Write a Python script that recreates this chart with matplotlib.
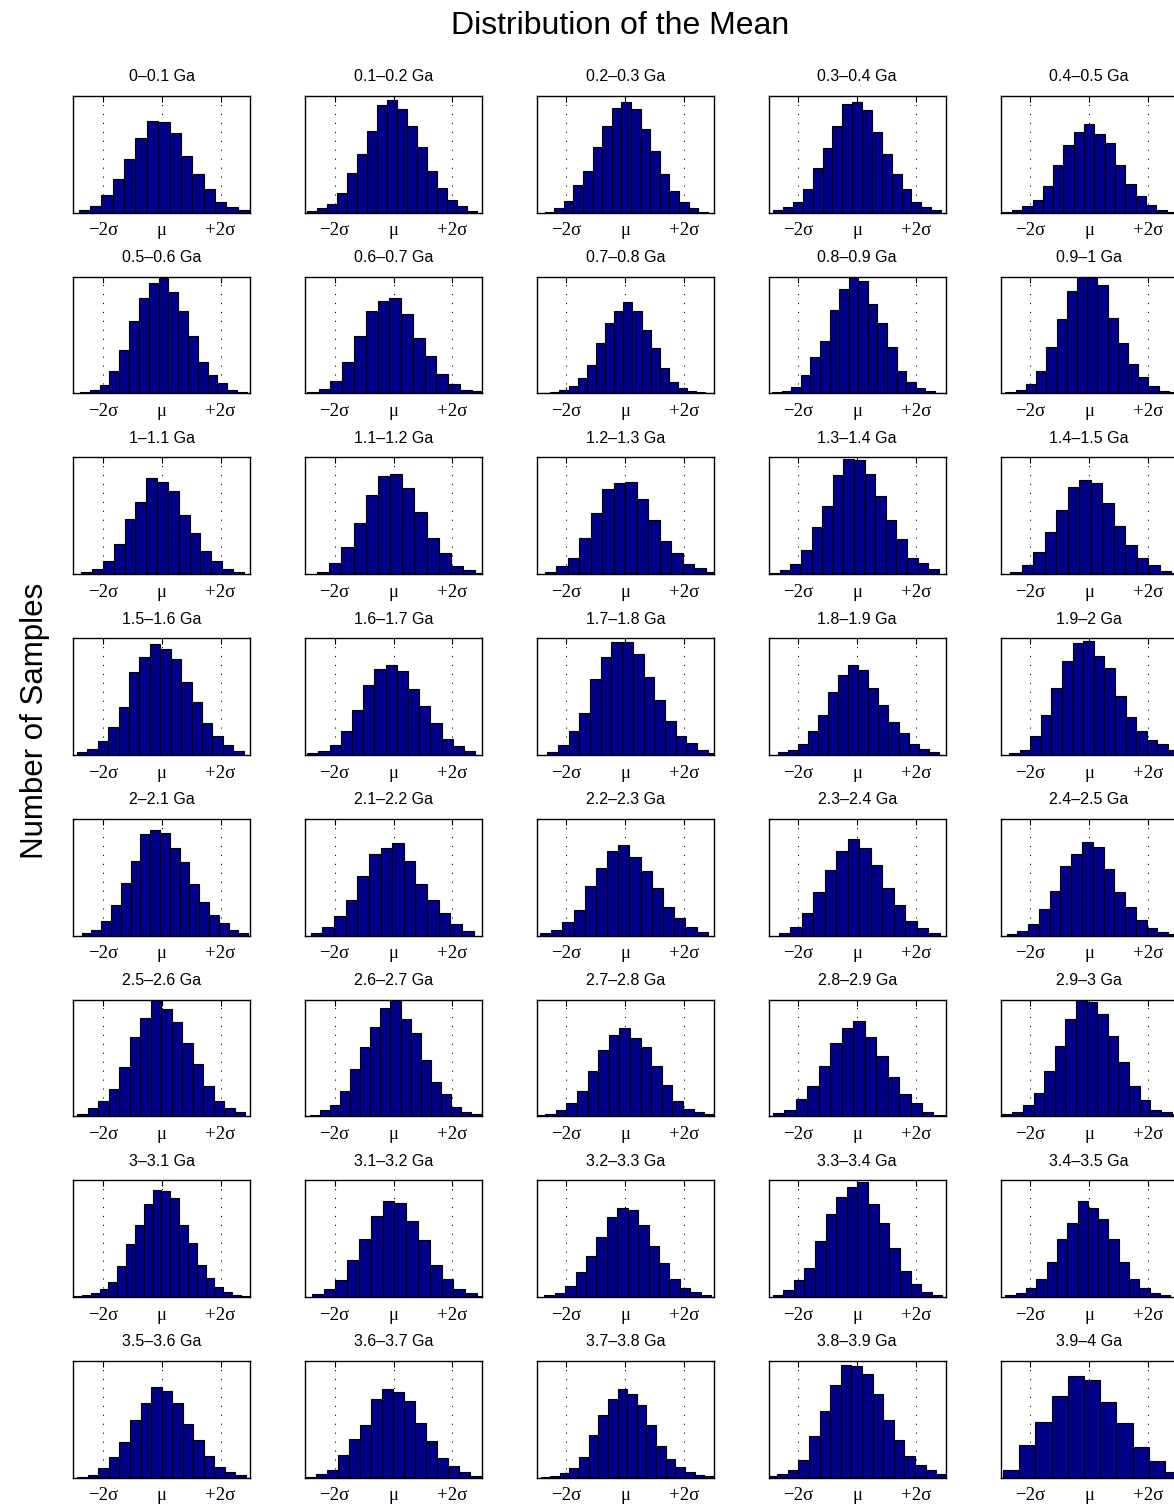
import numpy as np
import matplotlib.pyplot as plt

plt.rcParams['font.family'] = ['Liberation Sans', 'DejaVu Sans']

# panel titles (age bins)
labels = [
    "0–0.1 Ga", "0.1–0.2 Ga", "0.2–0.3 Ga", "0.3–0.4 Ga", "0.4–0.5 Ga",
    "0.5–0.6 Ga", "0.6–0.7 Ga", "0.7–0.8 Ga", "0.8–0.9 Ga", "0.9–1 Ga",
    "1–1.1 Ga", "1.1–1.2 Ga", "1.2–1.3 Ga", "1.3–1.4 Ga", "1.4–1.5 Ga",
    "1.5–1.6 Ga", "1.6–1.7 Ga", "1.7–1.8 Ga", "1.8–1.9 Ga", "1.9–2 Ga",
    "2–2.1 Ga", "2.1–2.2 Ga", "2.2–2.3 Ga", "2.3–2.4 Ga", "2.4–2.5 Ga",
    "2.5–2.6 Ga", "2.6–2.7 Ga", "2.7–2.8 Ga", "2.8–2.9 Ga", "2.9–3 Ga",
    "3–3.1 Ga", "3.1–3.2 Ga", "3.2–3.3 Ga", "3.3–3.4 Ga", "3.4–3.5 Ga",
    "3.5–3.6 Ga", "3.6–3.7 Ga", "3.7–3.8 Ga", "3.8–3.9 Ga", "3.9–4 Ga",
]

# left edge of the first bin and bin width, in units of sigma
bin_start = [
    -2.82, -2.94, -2.74, -2.85, -2.97,
    -2.77, -2.94, -2.86, -2.89, -2.84,
    -2.73, -2.60, -2.73, -2.99, -2.67,
    -2.88, -2.93, -2.65, -2.70, -2.72,
    -2.72, -2.81, -2.90, -2.66, -2.80,
    -2.87, -2.84, -3.08, -2.87, -2.96,
    -3.01, -2.77, -2.75, -2.87, -2.84,
    -2.86, -3.00, -2.88, -3.08, -2.92,
]
bin_width = [
    0.386, 0.340, 0.326, 0.335, 0.350,
    0.333, 0.400, 0.310, 0.325, 0.347,
    0.368, 0.414, 0.390, 0.360, 0.390,
    0.354, 0.380, 0.363, 0.342, 0.360,
    0.333, 0.395, 0.380, 0.390, 0.366,
    0.357, 0.342, 0.360, 0.390, 0.360,
    0.300, 0.400, 0.354, 0.360, 0.350,
    0.357, 0.373, 0.327, 0.360, 0.550,
]

# bar heights, percent of the panel height
counts = [
    [2.3, 6, 15, 29, 46, 64, 79, 78, 68, 49, 33, 20, 9, 5, 2],
    [1.4, 4, 7.5, 17, 34, 50, 70, 92.5, 96.5, 89, 74, 56, 36, 21, 11, 6, 1.4],
    [1, 4, 10, 24, 36, 56, 74, 90, 95, 89, 72, 53, 33, 19, 9, 4, 1],
    [2.3, 5, 9.5, 20.5, 38, 55.5, 74, 93.5, 95, 88, 69.5, 50, 33, 20, 9.5, 4.5, 2.3],
    [0.5, 2.3, 5.7, 11, 23, 41, 58, 69.5, 76, 67.5, 60, 41, 25, 14.5, 6.5, 2.5, 1],
    [1, 3, 7.5, 19, 37, 62, 82, 95, 98.5, 87, 71, 49, 26.5, 16, 8.6, 3, 1.4],
    [1, 4, 11, 27, 49, 70.5, 79, 82, 68, 47.5, 32, 17, 8, 3, 2],
    [0.3, 1, 2.5, 6, 13, 24.5, 43.5, 60, 70.5, 78, 71, 54.5, 39, 21.5, 10, 5, 2, 0.8, 0.5],
    [1, 2, 5.5, 15.5, 31, 44.5, 71.5, 89.5, 100, 96.5, 77, 60.5, 39.5, 19, 10, 5, 2, 0.5],
    [1, 2.5, 8, 19, 39.5, 64, 88, 99.5, 99.5, 93, 65, 43, 25, 14, 6, 2, 1],
    [1.5, 4.5, 11.4, 26, 47, 62, 82, 79, 71, 51, 35, 19.7, 10.8, 4.5, 1.5],
    [2, 9.7, 23, 44, 68, 84, 86, 74, 53, 31, 18, 7, 3.7, 1],
    [2, 7, 14, 31, 52, 73, 78, 79, 64, 46, 28.5, 17.7, 8.3, 4.8, 1.5],
    [1, 3.7, 9, 21, 40, 58, 85, 99, 98, 86, 67, 46, 30.5, 14, 9.7, 4.3],
    [2, 7.7, 19, 36, 55, 75, 81, 78, 61, 41, 25, 13.4, 7.7, 3, 1],
    [2, 5, 12, 24, 41, 71, 84, 95, 91, 82, 62, 45, 27, 15.7, 8, 3],
    [1.5, 3, 8, 20.5, 38.5, 60, 73.5, 77, 72, 56, 42, 27, 13.4, 7.4, 3],
    [2.5, 8.5, 20, 36, 65, 84, 97, 97, 86, 67, 47, 29, 16.5, 10, 4, 1.5],
    [2, 4, 9, 20, 34, 54, 68, 77, 73, 57, 43, 28.5, 19, 9, 5, 2.5],
    [1.5, 4, 16.5, 34.5, 57, 80, 96, 97.5, 85, 74, 50, 32, 20, 13, 9, 4, 2],
    [2, 5, 12, 26, 45, 63.5, 87, 90, 88, 75, 63, 44.5, 29, 17.7, 10.8, 5, 2.5],
    [2.5, 7, 17, 30.5, 51, 70, 75, 79, 63.5, 44.5, 30, 19, 9.7, 4],
    [2, 5, 11.4, 22, 42, 58, 72, 77.5, 67.5, 55, 41, 24, 15.4, 7, 3],
    [2, 7, 19, 37, 56, 72, 82.6, 75, 60, 41, 26, 12.5, 6, 2.5],
    [1.5, 4, 9.7, 22.5, 38, 59.5, 70, 80, 76, 57, 37.6, 24.5, 13.4, 6, 3, 1.5],
    [2.3, 6.6, 12.6, 23, 42, 68, 84, 99.4, 92, 80.6, 63, 45, 26, 12.9, 6.6, 3.7],
    [1.4, 5, 10, 21.7, 40.6, 59, 76.6, 93, 99.4, 83, 71, 48, 29.7, 18.6, 7.7, 4, 2],
    [0.8, 2, 5.7, 10.9, 22, 38.6, 57, 69.4, 75.7, 67.4, 59, 43, 27, 13.4, 6.3, 3.7, 2],
    [2.6, 5.7, 15, 25.7, 43, 62.6, 76, 82, 68, 52, 34, 19.4, 10.9, 3.7, 1.4],
    [2, 4, 9.7, 20, 38.9, 60, 83, 99.4, 98, 87.7, 69, 46.6, 26, 14.3, 5, 3.4, 1.5],
    [0.5, 1.7, 3.7, 6.9, 12.9, 26.9, 45, 62, 80, 91.4, 90.6, 85, 62, 46.6, 27.7, 16, 8.3, 4.3, 2, 0.5],
    [2.3, 6.6, 14.3, 31.4, 49.7, 69.7, 82.6, 80.3, 65.4, 49, 27.7, 15.4, 7.1, 3.4, 1],
    [2, 3.7, 9.4, 21.7, 35.4, 51.7, 68.6, 76, 74.3, 61.7, 44, 28.9, 15.7, 7.7, 4.6, 1.4],
    [1.7, 5.7, 14.6, 25, 47.7, 70.9, 86, 94.3, 98.3, 80, 62.9, 42, 22.6, 11.4, 4.6, 2],
    [1.7, 3.1, 7.4, 15, 30, 50, 63, 82.6, 76, 67, 49.7, 30, 15.7, 8, 3.4, 1.7],
    [0.6, 2.6, 8, 17.5, 30.5, 49, 63.5, 78, 74, 64, 45.7, 32, 18.4, 9, 4.9, 2],
    [0.6, 3.4, 6.6, 19, 33.3, 45.4, 67, 76, 73, 65.5, 47, 31, 16.7, 9.8, 4.6, 1.1],
    [0.8, 1.4, 3.7, 8.6, 18, 36.6, 53.7, 67.4, 76.3, 71.4, 62.3, 45.4, 26.9, 15.7, 9.4, 5.1, 2.3, 1],
    [1.4, 2.9, 6.9, 15.4, 35.7, 56.9, 79.7, 96.6, 96, 88.6, 71.7, 49, 32.3, 18.9, 10.9, 6.6, 3.1],
    [6.9, 28.3, 48, 70.3, 87, 83.7, 64.6, 47, 26, 14.3, 5],
]

tick_pos = [-2, 0, 2]
tick_labels = ["−2σ", "μ", "+2σ"]

W, H = 1174, 1506
fig = plt.figure(figsize=(W / 100, H / 100), dpi=100)

serif = ['Liberation Serif', 'DejaVu Serif']

for k, lab in enumerate(labels):
    r, c = divmod(k, 5)
    left = 73.3 + 231.85 * c
    top = 96 + 180.7 * r
    ax = fig.add_axes([left / W, 1 - (top + 116.7) / H, 176.7 / W, 116.7 / H])
    h = counts[k]
    edges = bin_start[k] + bin_width[k] * np.arange(len(h))
    ax.bar(edges, h, width=bin_width[k], align='edge', color='#000088',
           edgecolor='black', linewidth=0.8, zorder=2)
    for g in tick_pos:
        ax.axvline(g, color='black', lw=0.7, ls=(0, (1.2, 8)), zorder=1)
    ax.set_xlim(-3, 3)
    ax.set_ylim(0, 100)
    ax.set_xticks(tick_pos)
    ax.set_xticklabels(tick_labels, family=serif, fontsize=13.5)
    ax.set_yticks([])
    ax.tick_params(axis='x', direction='in', top=True, length=4, width=0.8, pad=7)
    for s in ax.spines.values():
        s.set_linewidth(1.0)
    ax.set_title(lab, fontsize=11.5, pad=10.5)

fig.text(620 / W, 1 - 26 / H, "Distribution of the Mean", ha='center', va='center', fontsize=23)
fig.text(35 / W, 1 - 721 / H, "Number of Samples", ha='center', va='center',
         rotation=90, fontsize=22.5)

fig.savefig("out.png", dpi=100)
